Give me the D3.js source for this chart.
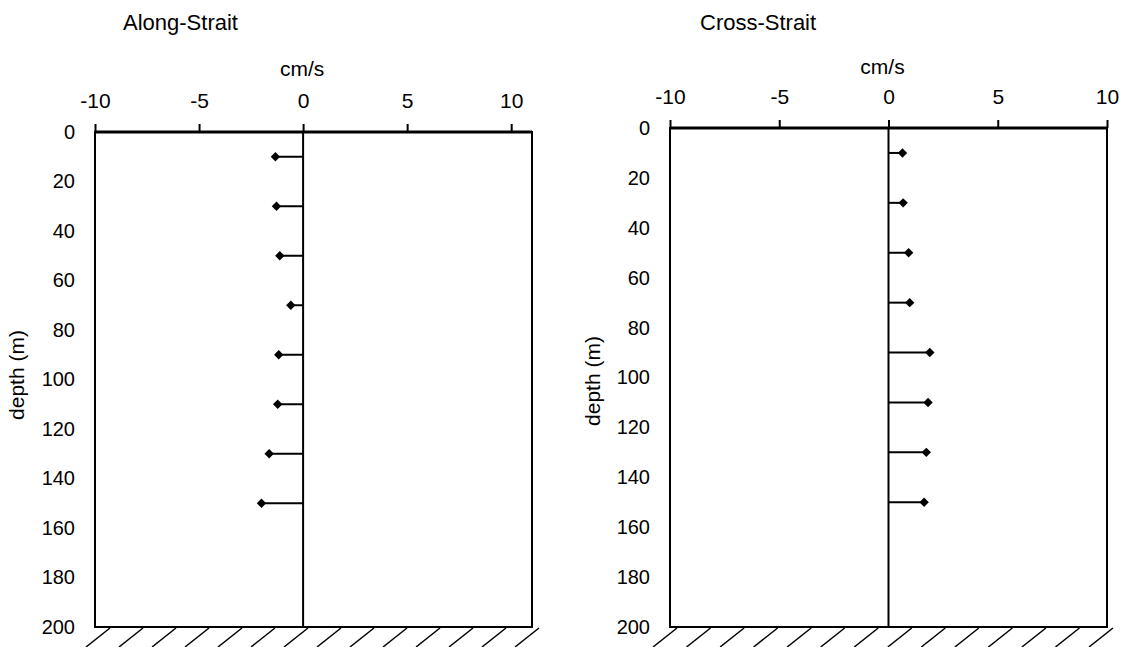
<!DOCTYPE html>
<html>
<head>
<meta charset="utf-8">
<script src="https://cdn.jsdelivr.net/npm/d3@7"></script>
<style>
  html, body { margin: 0; padding: 0; background: #fff; }
  svg { display: block; font-family: Arial, "Liberation Sans", sans-serif; }
</style>
</head>
<body>
<svg id="chart" width="1128" height="647"></svg>
<script>
// ---- data ----
const depths = [10, 30, 50, 70, 90, 110, 130, 150];
const alongStrait = [-1.33, -1.28, -1.12, -0.59, -1.17, -1.22, -1.63, -2.0];
const crossStrait = [0.64, 0.67, 0.92, 0.97, 1.89, 1.81, 1.73, 1.63];
const xTicks = [-10, -5, 0, 5, 10];
const yTicks = [0, 20, 40, 60, 80, 100, 120, 140, 160, 180, 200];
const panelTitles = ["Along-Strait", "Cross-Strait"];
const xLabel = "cm/s";
const yLabel = "depth (m)";

const svg = d3.select("#chart");
const FONT = "Arial, 'Liberation Sans', sans-serif";

const panels = [
  { title: panelTitles[0], values: alongStrait, left: 95, right: 532, top: 132, bottom: 627,
    xDomain: [-10, 11], titleX: 123, unitDx: -1, unitY: 76, yLabelX: 24, yLabelY: 375, hatchFirst: 15, hatchLast: 7 },
  { title: panelTitles[1], values: crossStrait, left: 670, right: 1107, top: 128, bottom: 627,
    xDomain: [-10, 10], titleX: 700, unitDx: -6, unitY: 74, yLabelX: 600, yLabelY: 381, hatchFirst: 7, hatchLast: 6 }
];

panels.forEach(p => {
  const x = d3.scaleLinear().domain(p.xDomain).range([p.left, p.right]);
  const y = d3.scaleLinear().domain([0, 200]).range([p.top, p.bottom]);
  const g = svg.append("g");

  // title
  g.append("text").attr("x", p.titleX).attr("y", 30)
    .attr("font-size", 22).attr("fill", "#000").text(p.title);

  // x label
  g.append("text").attr("x", x(0) + p.unitDx).attr("y", p.unitY).attr("text-anchor", "middle")
    .attr("font-size", 21).text(xLabel);

  // top axis
  const xAxis = d3.axisTop(x).tickValues(xTicks).tickSize(8).tickPadding(16)
    .tickFormat(d => String(d));
  const ax = g.append("g").attr("transform", `translate(0,${p.top})`).call(xAxis);
  ax.select(".domain").remove();
  ax.selectAll(".tick line").attr("stroke", "#000").attr("stroke-width", 2);
  ax.selectAll(".tick text").attr("font-size", 21).attr("font-family", FONT)
    .attr("fill", "#000");

  // left axis labels (no ticks)
  const yAxis = d3.axisLeft(y).tickValues(yTicks).tickSize(0).tickPadding(20)
    .tickFormat(d => String(d));
  const ay = g.append("g").attr("transform", `translate(${p.left},0)`).call(yAxis);
  ay.select(".domain").remove();
  ay.selectAll(".tick text").attr("font-size", 20).attr("font-family", FONT)
    .attr("fill", "#000");

  // y label
  g.append("text")
    .attr("transform", `translate(${p.yLabelX},${p.yLabelY}) rotate(-90)`)
    .attr("text-anchor", "middle").attr("font-size", 21).text(yLabel);

  // frame
  g.append("rect").attr("x", p.left).attr("y", p.top)
    .attr("width", p.right - p.left).attr("height", p.bottom - p.top)
    .attr("fill", "none").attr("stroke", "#000").attr("stroke-width", 2);
  g.append("line").attr("x1", p.left).attr("x2", p.right).attr("y1", p.top).attr("y2", p.top)
    .attr("stroke", "#000").attr("stroke-width", 3);

  // zero line
  g.append("line").attr("x1", x(0)).attr("x2", x(0)).attr("y1", p.top).attr("y2", p.bottom)
    .attr("stroke", "#000").attr("stroke-width", 2);

  // hatching below bottom (decoration)
  const n = 14;
  const first = p.left + p.hatchFirst, last = p.right + p.hatchLast;
  d3.range(n).forEach(i => {
    const tx = first + (last - first) * i / (n - 1);
    g.append("line").attr("x1", tx).attr("y1", p.bottom + 1)
      .attr("x2", tx - 24).attr("y2", p.bottom + 20)
      .attr("stroke", "#000").attr("stroke-width", 1.5);
  });

  // stems
  const data = depths.map((d, i) => ({ depth: d, v: p.values[i] }));
  g.selectAll("line.stem").data(data).enter().append("line").attr("class", "stem")
    .attr("x1", x(0)).attr("x2", d => x(d.v))
    .attr("y1", d => y(d.depth)).attr("y2", d => y(d.depth))
    .attr("stroke", "#000").attr("stroke-width", 2);

  // diamonds
  const sym = d3.symbol().type(d3.symbolDiamond2).size(56);
  g.selectAll("path.pt").data(data).enter().append("path").attr("class", "pt")
    .attr("d", sym)
    .attr("transform", d => `translate(${x(d.v)},${y(d.depth)})`)
    .attr("fill", "#000");
});
</script>
</body>
</html>
